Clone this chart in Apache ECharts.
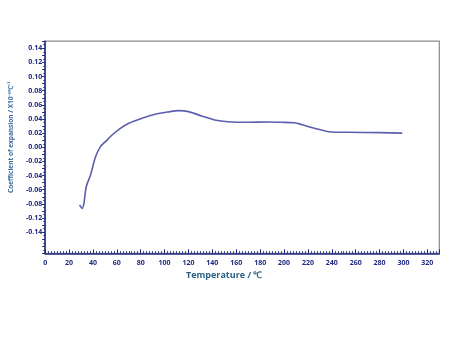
<!DOCTYPE html>
<html>
<head>
<meta charset="utf-8">
<script src="https://cdn.jsdelivr.net/npm/echarts@6/dist/echarts.min.js"></script>
<style>html,body{margin:0;padding:0;background:#fff}#c{width:450px;height:338px}</style>
</head>
<body>
<div id="c"></div>
<script>
const temperature = [28.8, 31.1, 32.5, 34.4, 38, 42.2, 46.3, 50.5, 56, 63, 70, 81, 92, 103, 111.7, 120, 131, 142, 153, 170, 186.7, 197.8, 209, 215, 225.5, 239.4, 253, 281, 299];
const expansion = [-0.0816, -0.0863, -0.079, -0.0557, -0.039, -0.0133, 0.001, 0.008, 0.0174, 0.0268, 0.034, 0.041, 0.0467, 0.050, 0.0518, 0.0504, 0.0443, 0.0386, 0.0362, 0.0354, 0.0358, 0.0354, 0.0346, 0.032, 0.0269, 0.0216, 0.0212, 0.0207, 0.0200];
const yTickValues = [0.14, 0.12, 0.10, 0.08, 0.06, 0.04, 0.02, 0.00, -0.02, -0.04, -0.06, -0.08, -0.10, -0.12];
const yTickLabels = ['0.14', '0.12', '0.10', '0.08', '0.06', '0.04', '0.02', '0.00', '-0.02', '-0.04', '-0.06', '-0.08', '-0.12', '-0.14'];
const xTickLabels = ['0','20','40','60','80','100','120','140','160','180','200','220','240','260','280','300','320'];

const navy = '#1f2a80';
const chart = echarts.init(document.getElementById('c'), null, {renderer: 'canvas'});
chart.setOption({
  animation: false,
  backgroundColor: '#fff',
  grid: {left: 42.7, right: 10.7, top: 41.2, bottom: 84.6, show: true, borderColor: '#8a8a8a', borderWidth: 1.2, containLabel: false},
  xAxis: {
    type: 'value', min: 0, max: 330, interval: 20,
    name: 'Temperature / ℃', nameLocation: 'middle', nameGap: 17,
    nameTextStyle: {fontFamily: 'Open Sans', fontWeight: 'bold', fontSize: 9, color: '#2a5f86', padding: [0, 36, 0, 0]},
    axisLine: {show: true, onZero: false, lineStyle: {color: navy, width: 1.5}},
    axisTick: {show: true, length: 4, inside: true, lineStyle: {color: navy, width: 1}},
    minorTick: {show: true, splitNumber: 8, length: 2.5, lineStyle: {color: navy, width: 0.8}},
    splitLine: {show: false},
    axisLabel: {
      showMaxLabel: false, margin: 6,
      fontFamily: 'Open Sans', fontWeight: 'bold', fontSize: 7, color: navy,
      formatter: function (v) { const i = Math.round(v / 20); return (Math.abs(v - i * 20) < 1e-6 && xTickLabels[i] !== undefined) ? xTickLabels[i] : ''; }
    }
  },
  yAxis: {
    type: 'value', min: -0.15, max: 0.15, interval: 0.01,
    name: 'Coefficient of expansion / X10⁻⁵℃⁻¹', nameLocation: 'middle', nameGap: 28, nameRotate: 90,
    nameTextStyle: {fontFamily: 'Open Sans', fontWeight: 'bold', fontSize: 6.5, color: '#3b6a9a', padding: [0, 0, 0, 20]},
    axisLine: {show: true, onZero: false, lineStyle: {color: navy, width: 1.5}},
    axisTick: {show: true, length: 3, lineStyle: {color: navy, width: 1}},
    minorTick: {show: true, splitNumber: 2, length: 2, lineStyle: {color: navy, width: 0.8}},
    splitLine: {show: false},
    axisLabel: {
      showMinLabel: true, showMaxLabel: true, margin: 3,
      fontFamily: 'Open Sans', fontWeight: 'bold', fontSize: 7, color: navy,
      formatter: function (v) {
        const k = Math.round(v * 100);
        for (let i = 0; i < yTickValues.length; i++) {
          if (Math.round(yTickValues[i] * 100) === k) return yTickLabels[i];
        }
        return '';
      }
    }
  },
  series: [{
    type: 'line',
    data: temperature.map((t, i) => [t, expansion[i]]),
    showSymbol: false, symbol: 'none', smooth: 0.3,
    lineStyle: {color: '#5b5fae', width: 1.6}
  }]
});
</script>
</body>
</html>
